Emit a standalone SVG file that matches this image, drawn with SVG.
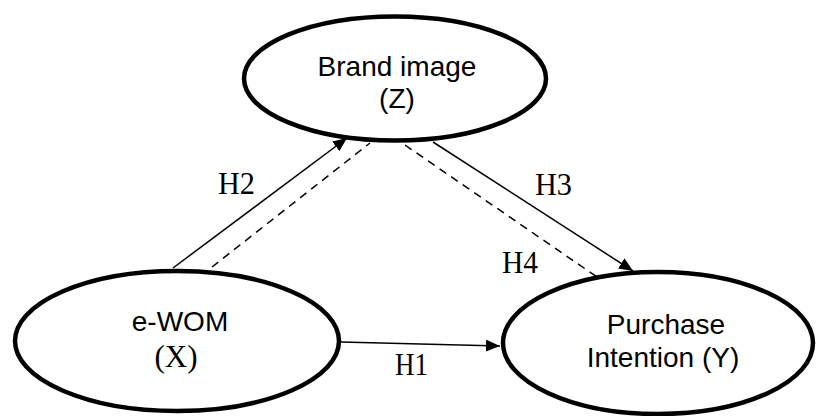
<svg xmlns="http://www.w3.org/2000/svg" width="817" height="416" viewBox="0 0 817 416">
<style>
.node{fill:#fff;stroke:#000;stroke-width:4.5}
.sans{font-family:"Liberation Sans",Arial,sans-serif;font-size:28px;fill:#000;text-anchor:middle}
.serif{font-family:"Liberation Serif","Times New Roman",serif;font-size:31px;fill:#000}
.edge{stroke:#000;stroke-width:1.5;fill:none}
.dash{stroke:#000;stroke-width:1.5;fill:none;stroke-dasharray:8 6}
</style>
<defs>
<marker id="arr" markerUnits="userSpaceOnUse" markerWidth="15" markerHeight="13" refX="14" refY="6" orient="auto" viewBox="0 0 15 13">
<path d="M0,0 L14,6 L0,12 z" fill="#000"/>
</marker>
</defs>
<rect width="817" height="416" fill="#fff"/>
<g id="node-z">
<ellipse class="node" cx="395" cy="78.5" rx="151" ry="62"/>
<text class="sans" x="397" y="76">Brand image</text>
<text class="sans" x="397" y="108">(Z)</text>
</g>
<g id="node-x">
<ellipse class="node" cx="177" cy="341" rx="162" ry="70"/>
<text class="sans" x="180" y="331">e-WOM</text>
<text class="serif" x="176" y="367" font-size="30" text-anchor="middle">(X)</text>
</g>
<g id="node-y">
<ellipse class="node" cx="658" cy="343" rx="155" ry="71"/>
<text class="sans" x="666" y="334">Purchase</text>
<text class="sans" x="663" y="367">Intention (Y)</text>
</g>
<g id="connectors">
<line class="edge" x1="341" y1="342" x2="500" y2="346" marker-end="url(#arr)"/>
<line class="edge" x1="173" y1="268" x2="347" y2="138" marker-end="url(#arr)"/>
<line class="dash" x1="212" y1="267" x2="370" y2="143"/>
<line class="dash" x1="405" y1="145" x2="597" y2="277"/>
<line class="edge" x1="433" y1="142" x2="633" y2="271" marker-end="url(#arr)"/>
<text class="serif" x="395" y="375" textLength="33" lengthAdjust="spacingAndGlyphs">H1</text>
<text class="serif" x="218" y="194" textLength="37" lengthAdjust="spacingAndGlyphs">H2</text>
<text class="serif" x="535" y="195" textLength="37" lengthAdjust="spacingAndGlyphs">H3</text>
<text class="serif" x="502" y="273" textLength="36" lengthAdjust="spacingAndGlyphs">H4</text>
</g>
</svg>
